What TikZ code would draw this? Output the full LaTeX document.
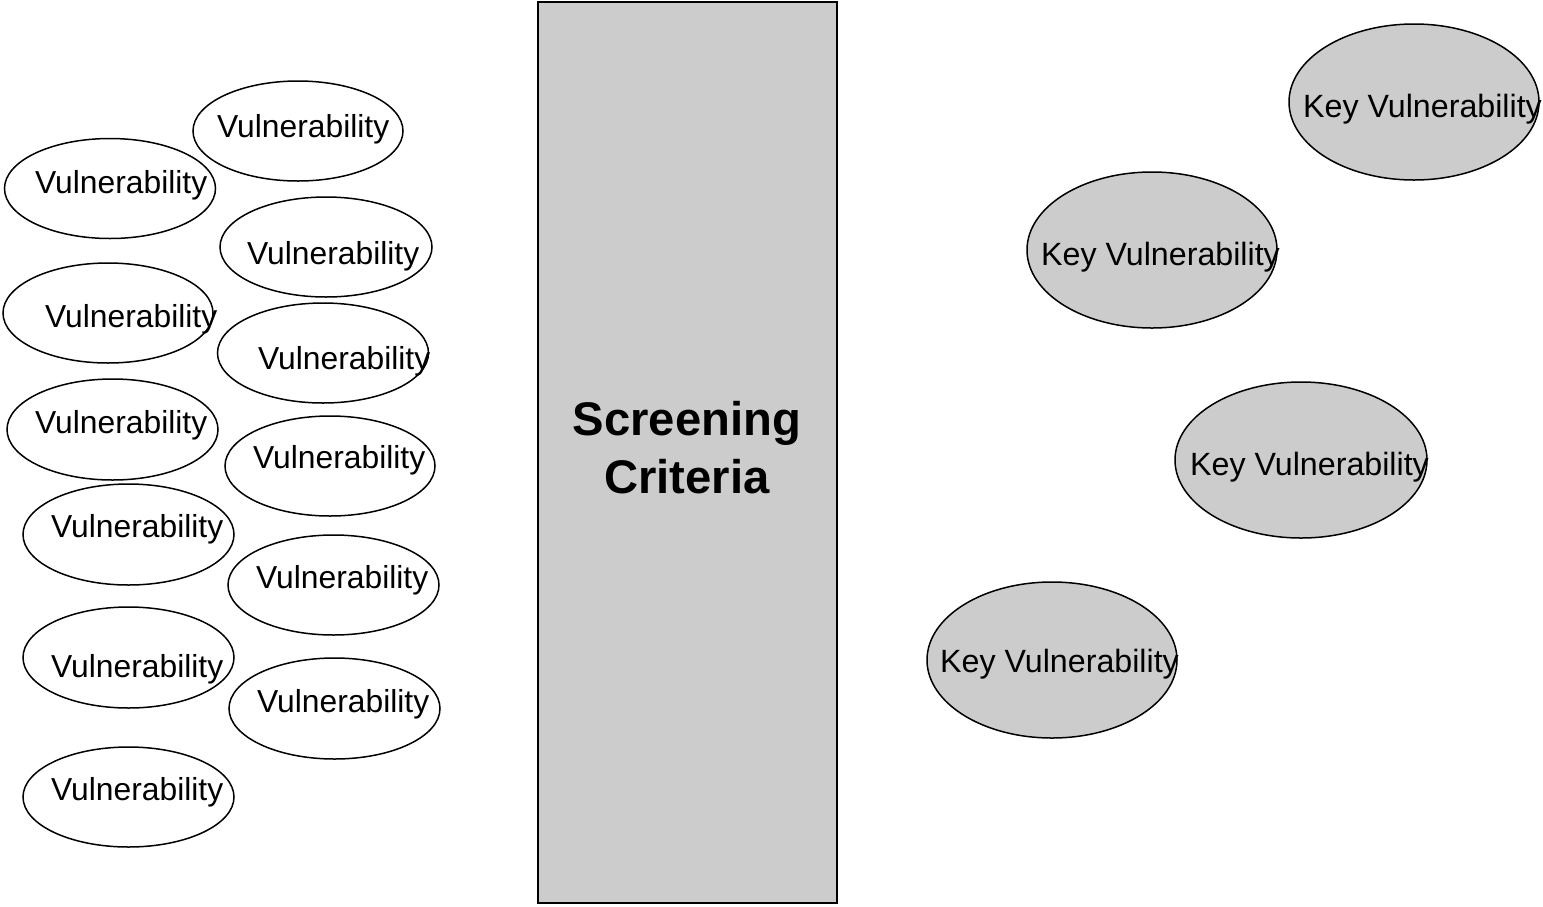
\documentclass[tikz,border=0pt]{standalone}
\usepackage{fontspec}
\setmainfont{Liberation Sans}
\usetikzlibrary{shapes.geometric}
\definecolor{boxgray}{RGB}{204,204,204}
\tikzset{
  vell/.style={draw=black, line width=1.5pt, ellipse, inner sep=0pt, fill=white},
  kell/.style={draw=black, line width=1.5pt, ellipse, inner sep=0pt, fill=boxgray},
  vtext/.style={anchor=base west, inner sep=0pt, font=\fontsize{31.8}{38}\selectfont},
  ktext/.style={anchor=base west, inner sep=0pt, font=\fontsize{32.2}{38}\selectfont},
  sbox/.style={draw=black, line width=2pt, fill=boxgray, inner sep=0pt},
  stext/.style={anchor=base, inner sep=0pt, font=\fontsize{47.2}{58}\selectfont\bfseries}
}
\begin{document}
\begin{tikzpicture}[x=1pt, y=-1pt]
\useasboundingbox (0,0) rectangle (1543,906);
\fill[white] (0,0) rectangle (1543,906);

% Screening box
\node[sbox, minimum width=299.5pt, minimum height=901pt] (box) at (687.25,452.5) {};
\node[stext] (s1) at (687,435) {Screening};
\node[stext] (s2) at (687,493) {Criteria};

% Vulnerability ellipses
\node[vell, minimum width=210pt, minimum height=100pt] (v1) at (298,131) {};
\node[vell, minimum width=211pt, minimum height=100pt] (v2) at (110,188.5) {};
\node[vell, minimum width=212pt, minimum height=100pt] (v3) at (326,247) {};
\node[vell, minimum width=210pt, minimum height=100pt] (v4) at (108,313) {};
\node[vell, minimum width=211pt, minimum height=100pt] (v5) at (323,353) {};
\node[vell, minimum width=211pt, minimum height=101pt] (v6) at (112.5,429.5) {};
\node[vell, minimum width=210pt, minimum height=100pt] (v7) at (330,466) {};
\node[vell, minimum width=211pt, minimum height=101pt] (v8) at (128.5,534.5) {};
\node[vell, minimum width=211pt, minimum height=100pt] (v9) at (333.5,585) {};
\node[vell, minimum width=211pt, minimum height=101pt] (v10) at (128.5,657.5) {};
\node[vell, minimum width=211pt, minimum height=101pt] (v11) at (334.5,708.5) {};
\node[vell, minimum width=211pt, minimum height=100pt] (v12) at (128.5,797) {};

\node[vtext] (tv1) at (217,137) {Vulnerability};
\node[vtext] (tv2) at (35,193) {Vulnerability};
\node[vtext] (tv3) at (247,264) {Vulnerability};
\node[vtext] (tv4) at (45,327) {Vulnerability};
\node[vtext] (tv5) at (258,369) {Vulnerability};
\node[vtext] (tv6) at (35,433) {Vulnerability};
\node[vtext] (tv7) at (253,468) {Vulnerability};
\node[vtext] (tv8) at (51,537) {Vulnerability};
\node[vtext] (tv9) at (256,588) {Vulnerability};
\node[vtext] (tv10) at (51,677) {Vulnerability};
\node[vtext] (tv11) at (257,712) {Vulnerability};
\node[vtext] (tv12) at (51,800) {Vulnerability};

% Key vulnerability ellipses
\node[kell, minimum width=250pt, minimum height=156pt] (k1) at (1414,102) {};
\node[kell, minimum width=250pt, minimum height=156pt] (k2) at (1152,250) {};
\node[kell, minimum width=252pt, minimum height=156pt] (k3) at (1301,460) {};
\node[kell, minimum width=250pt, minimum height=156pt] (k4) at (1052,660) {};

\node[ktext] (tk1) at (1303,117) {Key Vulnerability};
\node[ktext] (tk2) at (1041,265) {Key Vulnerability};
\node[ktext] (tk3) at (1190,475) {Key Vulnerability};
\node[ktext] (tk4) at (940,672) {Key Vulnerability};
\end{tikzpicture}
\end{document}
